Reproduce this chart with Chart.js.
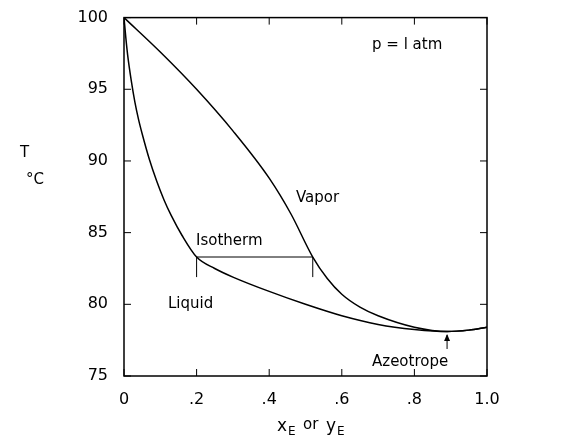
<!DOCTYPE html>
<html>
<head>
<script src="https://cdn.jsdelivr.net/npm/chart.js@4"></script>
<style>
  body { margin: 0; background: #fff; }
  #wrap { width: 567px; height: 448px; }
</style>
</head>
<body>
<div id="wrap"><canvas id="chart"></canvas></div>
<script>
// mole fraction ethanol vs temperature, p = 1 atm
const liquidX = [0, 0.005, 0.01, 0.02, 0.03, 0.04, 0.05, 0.07, 0.09, 0.11, 0.13, 0.16, 0.2, 0.25, 0.3, 0.4, 0.5, 0.6, 0.7, 0.8, 0.89, 0.95, 1.0];
const liquidT = [100, 98.6, 97.4, 95.6, 94.1, 92.9, 91.9, 90.1, 88.6, 87.3, 86.2, 84.8, 83.3, 82.5, 81.9, 80.9, 80.0, 79.2, 78.6, 78.25, 78.1, 78.2, 78.4];
const vaporX = [0, 0.1, 0.2, 0.3, 0.4, 0.46, 0.52, 0.56, 0.6, 0.65, 0.7, 0.8, 0.89, 0.95, 1.0];
const vaporT = [100, 97.6, 95.0, 92.1, 88.8, 86.3, 83.3, 81.8, 80.7, 79.8, 79.2, 78.4, 78.1, 78.2, 78.4];
const isothermX = [0.2, 0.52];
const isothermT = 83.3;
const azeoX = 0.89;
const xTicks = [0, 0.2, 0.4, 0.6, 0.8, 1.0];
const xTickLabels = ['0', '.2', '.4', '.6', '.8', '1.0'];
const yTicks = [75, 80, 85, 90, 95, 100];

const toPts = (xs, ys) => xs.map((x, i) => ({ x: x, y: ys[i] }));
const FONT = '"DejaVu Sans", sans-serif';

const decor = {
  id: 'decor',
  afterDraw(chart) {
    const ctx = chart.ctx, a = chart.chartArea;
    const xs = chart.scales.x, ys = chart.scales.y;
    ctx.save();
    ctx.strokeStyle = '#000';
    ctx.lineWidth = 1.5;
    ctx.strokeRect(a.left, a.top, a.right - a.left, a.bottom - a.top);
    // inward ticks
    ctx.lineWidth = 1;
    xTicks.forEach(v => {
      const p = xs.getPixelForValue(v);
      ctx.beginPath(); ctx.moveTo(p, a.bottom); ctx.lineTo(p, a.bottom - 7);
      ctx.moveTo(p, a.top); ctx.lineTo(p, a.top + 7); ctx.stroke();
    });
    yTicks.forEach(v => {
      const p = ys.getPixelForValue(v);
      ctx.beginPath(); ctx.moveTo(a.left, p); ctx.lineTo(a.left + 7, p);
      ctx.moveTo(a.right, p); ctx.lineTo(a.right - 7, p); ctx.stroke();
    });
    // isotherm end ticks
    isothermX.forEach(v => {
      const p = xs.getPixelForValue(v);
      ctx.beginPath(); ctx.moveTo(p, ys.getPixelForValue(isothermT));
      ctx.lineTo(p, ys.getPixelForValue(isothermT - 1.4)); ctx.stroke();
    });
    // azeotrope arrow
    const ax = xs.getPixelForValue(azeoX);
    const ay = ys.getPixelForValue(78.0);
    ctx.beginPath(); ctx.moveTo(ax, ay + 2); ctx.lineTo(ax, ay + 16); ctx.stroke();
    ctx.beginPath(); ctx.moveTo(ax, ay + 1); ctx.lineTo(ax - 3, ay + 8); ctx.lineTo(ax + 3, ay + 8); ctx.closePath();
    ctx.fillStyle = '#000'; ctx.fill();
    // texts
    ctx.fillStyle = '#000';
    ctx.font = '15px ' + FONT;
    ctx.textBaseline = 'middle';
    ctx.textAlign = 'left';
    ctx.fillText('p = l atm', 372, 45);
    ctx.fillText('Vapor', 296, 198);
    ctx.fillText('Isotherm', 196, 241);
    ctx.fillText('Liquid', 168, 304);
    ctx.fillText('Azeotrope', 372, 362);
    ctx.fillText('T', 20, 153);
    ctx.fillText('°C', 26, 180);
    ctx.font = '17px ' + FONT;
    ctx.fillText('x', 277, 427);
    ctx.font = '12px ' + FONT;
    ctx.fillText('E', 288, 432);
    ctx.font = '15px ' + FONT;
    ctx.fillText('or', 303, 425);
    ctx.font = '17px ' + FONT;
    ctx.fillText('y', 326, 427);
    ctx.font = '12px ' + FONT;
    ctx.fillText('E', 337, 432);
    ctx.restore();
  }
};

const line = (data, extra) => Object.assign({
  data: data, showLine: true, borderColor: '#000', borderWidth: 1.5,
  pointRadius: 0, fill: false, cubicInterpolationMode: 'monotone'
}, extra || {});

new Chart(document.getElementById('chart'), {
  type: 'scatter',
  data: {
    datasets: [
      line(toPts(liquidX, liquidT)),
      line(toPts(vaporX, vaporT)),
      line(isothermX.map(x => ({ x: x, y: isothermT })), { borderWidth: 1, cubicInterpolationMode: 'default', tension: 0 })
    ]
  },
  options: {
    responsive: true,
    maintainAspectRatio: false,
    animation: false,
    layout: { padding: { top: 13, right: 80, left: 0, bottom: 0 } },
    plugins: { legend: { display: false }, tooltip: { enabled: false } },
    scales: {
      x: {
        type: 'linear', min: 0, max: 1,
        afterBuildTicks: s => { s.ticks = xTicks.map(v => ({ value: v })); },
        afterFit: s => { s.height = 72; },
        grid: { display: false },
        border: { display: false },
        ticks: {
          color: '#000', font: { family: FONT, size: 16 }, padding: 6,
          callback: v => xTickLabels[xTicks.indexOf(v)]
        }
      },
      y: {
        min: 75, max: 100,
        afterBuildTicks: s => { s.ticks = yTicks.map(v => ({ value: v })); },
        afterFit: s => { s.width = 124; },
        grid: { display: false },
        border: { display: false },
        ticks: { color: '#000', font: { family: FONT, size: 16 }, padding: 8 }
      }
    }
  },
  plugins: [decor]
});
</script>
</body>
</html>
